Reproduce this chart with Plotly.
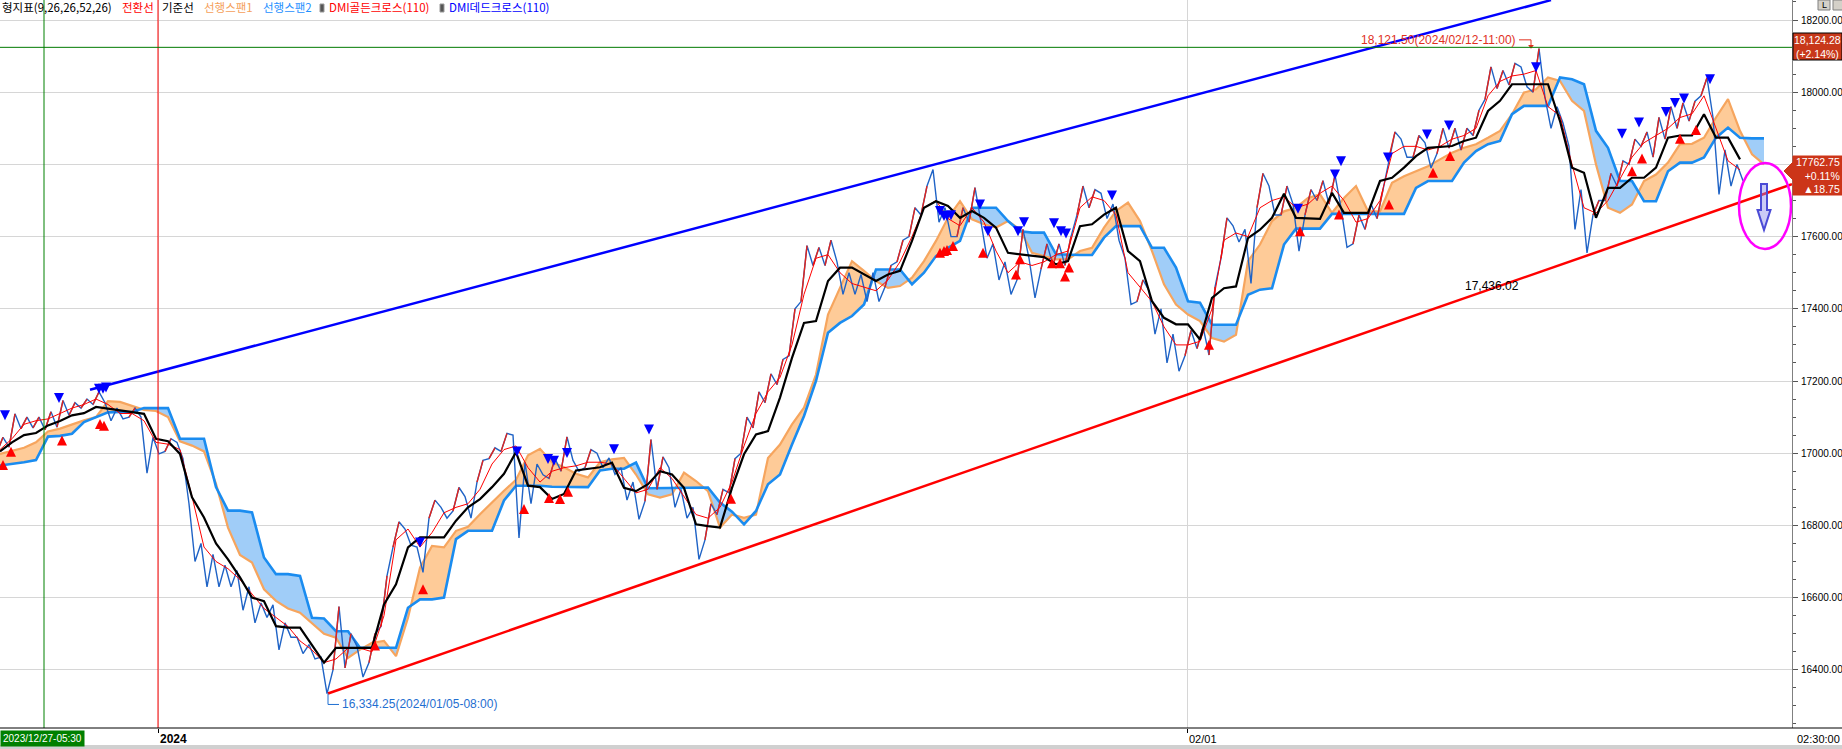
import plotly.graph_objects as go

# 30-minute bars; one sample every 12 bars (x = bar number = pixel column of the original chart)
STEP = 12

close = [17021, 17068, 17083, 17088, 17095, 17105, 17120, 17135, 17150, 17115, 17110, 17112, 17060,
         17020, 17025, 17000, 16760, 16735, 16690, 16665, 16640, 16600, 16560, 16540, 16510, 16470,
         16450, 16410, 16440, 16470, 16450, 16470, 16600, 16795, 16765, 16700, 16840, 16835, 16870,
         16855, 16960, 17000, 17025, 16980, 16960, 16955, 16960, 16975, 16960, 16985, 16975,
         16964, 16914, 16877, 16941, 16941, 16904, 16867, 16803, 16821, 16867, 16941, 17061, 17126,
         17181, 17237, 17348, 17541, 17541, 17551, 17477, 17472, 17468, 17458, 17495, 17560, 17634,
         17708, 17698, 17625, 17634, 17698, 17606, 17532, 17495, 17569, 17495, 17546, 17551, 17560,
         17708, 17712, 17689, 17643, 17449, 17449, 17403, 17329, 17292, 17311, 17320,
         17400, 17610, 17605, 17600, 17735, 17698, 17707, 17652, 17698, 17726, 17735, 17633, 17633,
         17652, 17707, 17856, 17846, 17851, 17828, 17865, 17870, 17874, 17911, 18022, 18031, 18050,
         18041, 18059, 17939, 17934, 17754, 17652, 17680, 17735, 17772, 17837, 17874, 17893, 17920,
         17939, 17948, 18013, 17865, 17800, 17763]
high = [17044, 17109, 17100, 17100, 17115, 17146, 17140, 17150, 17170, 17140, 17125, 17125, 17100,
        17044, 17040, 17030, 16860, 16750, 16720, 16690, 16675, 16630, 16585, 16580, 16530, 16490,
        16470, 16435, 16575, 16500, 16465, 16500, 16660, 16810, 16790, 16740, 16870, 16850, 16905,
        16880, 16980, 17015, 17055, 17050, 16975, 16970, 16985, 17045, 16980, 17010, 17000,
        16987, 16960, 16920, 17038, 16990, 16960, 16900, 16850, 16860, 16900, 16985, 17100, 17170,
        17220, 17260, 17400, 17575, 17570, 17590, 17530, 17500, 17495, 17500, 17520, 17590, 17680,
        17740, 17786, 17680, 17680, 17736, 17640, 17580, 17530, 17620, 17540, 17580, 17580, 17600,
        17740, 17730, 17720, 17690, 17540, 17480, 17450, 17400, 17330, 17340, 17350,
        17460, 17652, 17630, 17620, 17775, 17740, 17740, 17690, 17730, 17755, 17770, 17680, 17660,
        17690, 17730, 17890, 17870, 17880, 17860, 17900, 17900, 17900, 17950, 18070, 18060, 18080,
        18070, 18121, 17985, 17960, 17850, 17730, 17700, 17775, 17810, 17870, 17890, 17930, 17960,
        17970, 17975, 18040, 17930, 17840, 17800]
low = [17003, 17017, 17068, 17070, 17065, 17072, 17105, 17125, 17135, 17090, 17095, 17100, 16945,
       16998, 17005, 16985, 16700, 16630, 16630, 16630, 16565, 16530, 16545, 16455, 16490, 16445,
       16430, 16334, 16400, 16405, 16380, 16420, 16520, 16740, 16745, 16670, 16820, 16820, 16840,
       16820, 16920, 16985, 17005, 16765, 16860, 16940, 16930, 16950, 16950, 16960, 16960,
       16941, 16870, 16817, 16867, 16900, 16850, 16820, 16706, 16760, 16830, 16890, 17000, 17070,
       17140, 17190, 17270, 17420, 17520, 17520, 17440, 17440, 17420, 17420, 17460, 17530, 17600,
       17660, 17640, 17600, 17600, 17640, 17540, 17480, 17440, 17480, 17430, 17510, 17520, 17520,
       17660, 17680, 17650, 17590, 17412, 17420, 17330, 17250, 17227, 17270, 17290,
       17272, 17540, 17585, 17470, 17680, 17660, 17660, 17560, 17660, 17700, 17690, 17570, 17580,
       17620, 17650, 17820, 17820, 17820, 17790, 17830, 17845, 17840, 17880, 17980, 18010, 18020,
       18015, 18000, 17900, 17915, 17620, 17555, 17660, 17700, 17740, 17800, 17850, 17820, 17870,
       17900, 17920, 17990, 17717, 17740, 17755]

tenkan = [17010, 17040, 17080, 17090, 17095, 17110, 17125, 17135, 17150, 17135, 17110, 17110, 17090,
          17030, 17025, 17010, 16880, 16740, 16700, 16680, 16650, 16610, 16570, 16545, 16520, 16480,
          16455, 16420, 16430, 16460, 16460, 16450, 16550, 16760, 16790, 16740, 16780, 16835, 16850,
          16860, 16900, 16970, 17010, 17020, 16960, 16920, 16950, 16960, 16965, 16975, 16975,
          16970, 16930, 16890, 16900, 16960, 16930, 16880, 16830, 16820, 16850, 16920, 17020, 17110,
          17170, 17210, 17300, 17440, 17540, 17550, 17500, 17470, 17460, 17450, 17480, 17530, 17600,
          17680, 17700, 17650, 17630, 17680, 17640, 17560, 17500, 17530, 17520, 17530, 17550, 17560,
          17680, 17710, 17700, 17660, 17500, 17460, 17420, 17350, 17300, 17300, 17310,
          17400, 17590, 17610, 17600, 17680, 17700, 17710, 17680, 17690, 17720, 17740, 17700, 17640,
          17650, 17700, 17830, 17850, 17850, 17840, 17850, 17870, 17880, 17900, 17990, 18030, 18045,
          18050, 18060, 17960, 17935, 17800, 17680, 17665, 17700, 17760, 17820, 17860, 17880, 17900,
          17930, 17940, 17990, 17900, 17810, 17785]
kijun = [17005, 17030, 17050, 17056, 17077, 17089, 17105, 17111, 17128, 17123, 17117, 17114, 17109,
         17040, 17033, 16998, 16878, 16822, 16750, 16706, 16656, 16600, 16590, 16521, 16517, 16517,
         16470, 16420, 16461, 16461, 16461, 16461, 16581, 16637, 16739, 16767, 16767, 16767, 16813,
         16850, 16873, 16906, 16943, 17003, 16910, 16906, 16873, 16887, 16952, 16956, 16961,
         16974, 16904, 16895, 16914, 16950, 16941, 16904, 16803, 16798, 16794, 16904, 16997, 17052,
         17061, 17154, 17264, 17361, 17366, 17477, 17514, 17514, 17495, 17477, 17495, 17505, 17588,
         17680, 17698, 17685, 17652, 17671, 17652, 17625, 17555, 17551, 17546, 17543, 17523, 17532,
         17629, 17634, 17661, 17680, 17560, 17532, 17421, 17375, 17357, 17357, 17315,
         17430, 17457, 17462, 17596, 17619, 17652, 17719, 17652, 17650, 17649, 17721, 17666, 17666,
         17666, 17754, 17763, 17791, 17823, 17846, 17848, 17851, 17865, 17874, 17948, 17976, 18022,
         18022, 18022, 18022, 17920, 17791, 17777, 17652, 17735, 17735, 17763, 17763, 17791, 17874,
         17880, 17880, 17939, 17874, 17874, 17814]

# leading spans, already shifted 26 bars ahead
span1 = [16998, 17007, 17015, 17030, 17060, 17068, 17080, 17091, 17100, 17144, 17142, 17130, 17120,
         17117, 17100, 17033, 17021, 17005, 16915, 16794, 16718, 16697, 16623, 16591, 16570, 16558,
         16528, 16500, 16489, 16433, 16456, 16475, 16480, 16438, 16544, 16683, 16743, 16739, 16785,
         16796, 16831, 16864, 16896, 16926, 16994, 17012, 16975, 16961, 16943, 16933, 16975,
         16983, 16987, 16941, 16886, 16877, 16886, 16946, 16923, 16895, 16794, 16830, 16821, 16830,
         16987, 17024, 17080, 17126, 17218, 17384, 17458, 17532, 17505, 17477, 17458, 17463, 17486,
         17532, 17588, 17652, 17698, 17648, 17634, 17625, 17643, 17620, 17555, 17546, 17537, 17537,
         17560, 17569, 17625, 17671, 17694, 17643, 17560, 17468, 17412, 17384, 17366,
         17319, 17309, 17328, 17532, 17578, 17643, 17670, 17680, 17707, 17717, 17666, 17707, 17740,
         17670, 17670, 17749, 17767, 17781, 17795, 17814, 17832, 17846, 17856, 17874, 17893, 17939,
         17999, 18008, 18041, 18031, 17976, 17948, 17800, 17680, 17666, 17689, 17754, 17772, 17805,
         17856, 17857, 17874, 17930, 17981, 17893, 17828, 17800]
span2 = [16966, 16970, 16975, 16981, 17046, 17048, 17054, 17086, 17100, 17113, 17114, 17114, 17125,
         17125, 17125, 17040, 17040, 17040, 16906, 16841, 16841, 16836, 16711, 16665, 16665, 16660,
         16544, 16542, 16507, 16507, 16461, 16461, 16461, 16461, 16572, 16595, 16595, 16600, 16762,
         16785, 16785, 16785, 16869, 16910, 16910, 16910, 16907, 16907, 16906, 16906, 16952,
         16957, 16957, 16974, 16903, 16903, 16903, 16905, 16905, 16905, 16863, 16838, 16803, 16840,
         16914, 16941, 17024, 17103, 17200, 17334, 17361, 17380, 17412, 17509, 17509, 17509, 17468,
         17500, 17546, 17569, 17588, 17680, 17680, 17680, 17643, 17615, 17611, 17611, 17551, 17549,
         17549, 17549, 17597, 17629, 17629, 17629, 17569, 17569, 17514, 17421, 17417,
         17356, 17356, 17356, 17439, 17453, 17457, 17578, 17622, 17622, 17622, 17663, 17663, 17663,
         17663, 17663, 17663, 17663, 17735, 17754, 17754, 17754, 17805, 17837, 17856, 17865, 17939,
         17962, 17962, 17962, 18041, 18036, 18022, 17893, 17846, 17754, 17754, 17698, 17698, 17781,
         17805, 17805, 17819, 17874, 17902, 17874, 17872, 17872]

# DMI cross signals
golden_x = [3, 11, 62, 100, 104, 375, 423, 524, 549, 560, 568, 731, 940, 944, 947, 953, 983, 1016,
            1020, 1052, 1060, 1065, 1069, 1209, 1300, 1339, 1389, 1433, 1450, 1632, 1642, 1680, 1696]
golden_y = [16981, 17018, 17049, 17095, 17090, 16481, 16637, 16859, 16890, 16887, 16907, 16888,
            17569, 17574, 17577, 17588, 17569, 17509, 17551, 17540, 17540, 17503, 17528, 17314,
            17629, 17675, 17703, 17791, 17837, 17795, 17830, 17885, 17909]
dead_x = [5, 59, 99, 103, 106, 420, 517, 548, 554, 567, 614, 649, 940, 944, 947, 951, 980, 988,
          1018, 1024, 1054, 1061, 1066, 1112, 1298, 1335, 1341, 1388, 1427, 1449, 1536, 1622, 1639,
          1666, 1675, 1684, 1710]
dead_y = [17091, 17139, 17165, 17165, 17168, 16739, 16991, 16970, 16965, 16987, 16997, 17052, 17657,
          17643, 17643, 17645, 17675, 17601, 17601, 17626, 17623, 17601, 17595, 17700, 17663, 17758,
          17795, 17805, 17869, 17894, 18055, 17871, 17902, 17931, 17956, 17969, 18022]

# trend lines drawn on the chart
upper_x = [90, 1551]
upper_y = [17176, 18255]
lower_x = [328, 1792]
lower_y = [16334.25, 17745]

high_level = 18124.28
peak_bar, peak_val = 1531, 18121.50
trough_bar, trough_val = 328, 16334.25
line_val = 17436.02
cross_bar = 44
year_bar = 158
feb_bar = 1187
ytick_vals = [16400, 16600, 16800, 17000, 17200, 17400, 17600, 17800, 18000, 18200]
hidden_tick = 17800  # covered by the current-price box

PW, PH = 1792, 728
Y0, Y1 = 16238.8, 18255.4

bar_x = [i * STEP for i in range(len(close))]
span_x = [i * STEP for i in range(len(span1))]


def px(x):
    return x / PW


def py(y):
    return 1 - y / PH


def cloud(xs, a, b):
    out = {True: ([], []), False: ([], [])}

    def flush(sign, ra, rb):
        pts = ra + rb[::-1]
        out[sign][0].extend([p[0] for p in pts] + [None])
        out[sign][1].extend([p[1] for p in pts] + [None])

    ra, rb = [(xs[0], a[0])], [(xs[0], b[0])]
    sign = a[0] >= b[0]
    for i in range(1, len(xs)):
        s = a[i] >= b[i]
        if s != sign:
            d0, d1 = a[i - 1] - b[i - 1], a[i] - b[i]
            t = d0 / (d0 - d1) if d0 != d1 else 0
            xm = xs[i - 1] + t * (xs[i] - xs[i - 1])
            ym = a[i - 1] + t * (a[i] - a[i - 1])
            ra.append((xm, ym))
            rb.append((xm, ym))
            flush(sign, ra, rb)
            ra, rb = [(xm, ym)], [(xm, ym)]
            sign = s
        ra.append((xs[i], a[i]))
        rb.append((xs[i], b[i]))
    flush(sign, ra, rb)
    return out


fig = go.Figure()

cl = cloud(span_x, span1, span2)
fig.add_trace(go.Scatter(x=cl[True][0], y=cl[True][1], fill="toself", fillcolor="#fecb98",
                         mode="lines", line=dict(width=0), hoverinfo="skip"))
fig.add_trace(go.Scatter(x=cl[False][0], y=cl[False][1], fill="toself", fillcolor="#a0cdf8",
                         mode="lines", line=dict(width=0), hoverinfo="skip"))
fig.add_trace(go.Scatter(x=span_x, y=span1, mode="lines", line=dict(color="#f6a55e", width=2.2)))
fig.add_trace(go.Scatter(x=span_x, y=span2, mode="lines", line=dict(color="#1a8cf0", width=2.6)))

# price: zigzag through each sample's high/low, rising samples in red
zz_x, zz_y, up_x, up_y = [], [], [], []
for i, x in enumerate(bar_x):
    rising = i == 0 or close[i] >= close[i - 1]
    a, b = (low[i], high[i]) if rising else (high[i], low[i])
    zz_x += [x - 3, x + 3]
    zz_y += [a, b]
    if rising:
        up_x += [x - 3, x + 3, None]
        up_y += [a, b, None]
fig.add_trace(go.Scatter(x=zz_x, y=zz_y, mode="lines", line=dict(color="#1f63c6", width=1.4)))
fig.add_trace(go.Scatter(x=up_x, y=up_y, mode="lines", line=dict(color="#e3241b", width=1.4)))

fig.add_trace(go.Scatter(x=bar_x, y=tenkan, mode="lines", line=dict(color="#ff0000", width=1)))
fig.add_trace(go.Scatter(x=bar_x, y=kijun, mode="lines", line=dict(color="#000000", width=2.2)))

fig.add_trace(go.Scatter(x=upper_x, y=upper_y, mode="lines", line=dict(color="#0000ff", width=2.5)))
fig.add_trace(go.Scatter(x=lower_x, y=lower_y, mode="lines", line=dict(color="#ff0000", width=2.5)))

fig.add_trace(go.Scatter(x=golden_x, y=golden_y, mode="markers",
                         marker=dict(symbol="arrow-up", size=10, color="#ff0000")))
fig.add_trace(go.Scatter(x=dead_x, y=dead_y, mode="markers",
                         marker=dict(symbol="arrow-down", size=10, color="#0000ff")))

# peak marker pointer
fig.add_trace(go.Scatter(x=[peak_bar], y=[peak_val + 6], mode="markers",
                         marker=dict(symbol="triangle-down", size=5, color="#e0301e")))

shapes = [
    dict(type="line", xref="x", yref="paper", x0=cross_bar, x1=cross_bar, y0=0, y1=1,
         line=dict(color="#008000", width=1)),
    dict(type="line", xref="x", yref="paper", x0=year_bar, x1=year_bar, y0=0, y1=1,
         line=dict(color="#ff0000", width=1)),
    dict(type="line", xref="paper", yref="y", x0=0, x1=1, y0=high_level, y1=high_level,
         line=dict(color="#007a00", width=1)),
    dict(type="path", xref="x", yref="y",
         path=f"M {peak_bar - 12},18145 L {peak_bar},18145 L {peak_bar},{peak_val + 8}",
         line=dict(color="#e0301e", width=1)),
    dict(type="path", xref="x", yref="y",
         path=f"M {trough_bar},{trough_val} L {trough_bar},16304 L {trough_bar + 11},16304",
         line=dict(color="#1f6fd1", width=1)),
    dict(type="circle", xref="x", yref="y", x0=1739, x1=1791, y0=17566, y1=17804,
         line=dict(color="#ff00ff", width=2.5)),
    dict(type="path", xref="x", yref="y",
         path="M 1761,17746 L 1767,17746 L 1767,17674 L 1770.5,17674 L 1764,17618 "
              "L 1757.5,17674 L 1761,17674 Z",
         fillcolor="rgba(140,140,235,0.45)", line=dict(color="#4b4bd6", width=2)),
    # right-side price boxes
    dict(type="rect", xref="paper", yref="paper", x0=px(1793), x1=px(1842), y0=py(60), y1=py(33),
         fillcolor="#c8381a", line=dict(color="#000000", width=1)),
    dict(type="path", xref="paper", yref="paper",
         path=f"M {px(1793)},{py(156)} L {px(1842)},{py(156)} L {px(1842)},{py(195)} "
              f"L {px(1793)},{py(195)} L {px(1793)},{py(180)} L {px(1784)},{py(171)} "
              f"L {px(1793)},{py(162)} Z",
         fillcolor="#cc3519", line=dict(color="#cc3519", width=1)),
    # bottom axis line and strip
    dict(type="line", xref="paper", yref="paper", x0=0, x1=px(1842), y0=0, y1=0,
         line=dict(color="#000000", width=1)),
    dict(type="rect", xref="paper", yref="paper", x0=0, x1=px(1842), y0=py(749), y1=py(745),
         fillcolor="#d0d0d0", line=dict(width=0)),
    # top-right buttons
    dict(type="rect", xref="paper", yref="paper", x0=px(1818), x1=px(1830), y0=py(10), y1=py(0),
         fillcolor="#d4d0c8", line=dict(color="#808080", width=1)),
    dict(type="rect", xref="paper", yref="paper", x0=px(1833), x1=px(1845), y0=py(10), y1=py(0),
         fillcolor="#d4d0c8", line=dict(color="#808080", width=1)),
    # legend icons
    dict(type="rect", xref="paper", yref="paper", x0=px(320), x1=px(324), y0=py(12), y1=py(4),
         fillcolor="#555555", line=dict(color="#999999", width=1)),
    dict(type="rect", xref="paper", yref="paper", x0=px(440), x1=px(444), y0=py(12), y1=py(4),
         fillcolor="#555555", line=dict(color="#999999", width=1)),
]

KR = "Noto Sans CJK KR"
AX = "Liberation Sans"
legend_items = [
    ("형지표(9,26,26,52,26)", 0, "#000000"),
    ("전환선", 120, "#ff0000"),
    ("기준선", 160, "#000000"),
    ("선행스팬1", 202, "#f5a05a"),
    ("선행스팬2", 261, "#1e90ff"),
    ("DMI골든크로스(110)", 327, "#ff0000"),
    ("DMI데드크로스(110)", 447, "#0000ff"),
]
ann = []
for text, x, color in legend_items:
    ann.append(dict(text=text, xref="paper", yref="paper", x=px(x), y=py(7), xanchor="left",
                    yanchor="middle", showarrow=False, font=dict(family=KR, size=11.5, color=color)))

ann += [
    dict(text="18,121.50(2024/02/12-11:00)", xref="x", yref="y", x=peak_bar - 13, y=18145,
         xanchor="right", yanchor="middle", showarrow=False,
         font=dict(family=AX, size=12, color="#e0301e")),
    dict(text="16,334.25(2024/01/05-08:00)", xref="x", yref="y", x=trough_bar + 12, y=16304,
         xanchor="left", yanchor="middle", showarrow=False,
         font=dict(family=AX, size=12, color="#1f6fd1")),
    dict(text=f"{line_val:,.2f}", xref="x", yref="y", x=1492, y=17463, xanchor="center",
         yanchor="middle", showarrow=False, font=dict(family=AX, size=12, color="#000000")),
    dict(text="18,124.28<br>(+2.14%)", xref="paper", yref="paper", x=px(1817), y=py(46.5),
         xanchor="center", yanchor="middle", showarrow=False,
         font=dict(family=AX, size=10.5, color="#ffffff")),
    dict(text=f"{17762.75:.2f}<br>+0.11%<br>▲18.75", xref="paper", yref="paper", x=px(1818),
         y=py(175.5), xanchor="center", yanchor="middle", showarrow=False, align="right",
         font=dict(family=AX, size=10.5, color="#ffffff")),
    dict(text="2023/12/27-05:30", xref="paper", yref="paper", x=0, y=py(738.5), xanchor="left",
         yanchor="middle", showarrow=False, bgcolor="#008000", borderpad=2,
         font=dict(family=AX, size=10, color="#ffffff")),
    dict(text="<b>2024</b>", xref="x", yref="paper", x=year_bar, y=py(739), xanchor="left",
         yanchor="middle", showarrow=False, font=dict(family=AX, size=12, color="#000000")),
    dict(text="02/01", xref="x", yref="paper", x=feb_bar, y=py(739), xanchor="left",
         yanchor="middle", showarrow=False, font=dict(family=AX, size=11, color="#000000")),
    dict(text="02:30:00", xref="paper", yref="paper", x=px(1842), y=py(739), xanchor="right",
         yanchor="middle", showarrow=False, font=dict(family=AX, size=11, color="#000000")),
    dict(text="L", xref="paper", yref="paper", x=px(1824), y=py(5), xanchor="center",
         yanchor="middle", showarrow=False, font=dict(family=AX, size=9, color="#000000")),
]

fig.update_layout(
    template="none",
    width=1842, height=749,
    margin=dict(l=0, r=50, t=0, b=21),
    plot_bgcolor="#ffffff", paper_bgcolor="#ffffff",
    showlegend=False, hovermode=False,
    font=dict(family=AX, size=11, color="#000000"),
    shapes=shapes, annotations=ann,
)
fig.update_xaxes(range=[0, PW], tickmode="array", tickvals=[year_bar, feb_bar], showticklabels=False,
                 ticks="outside", ticklen=4, tickcolor="#000000", showgrid=True, gridcolor="#d6d6d6",
                 zeroline=False, showline=False, automargin=False)
fig.update_yaxes(range=[Y0, Y1], side="right", tickmode="array", tickvals=ytick_vals,
                 ticktext=["" if v == hidden_tick else f"{v}.00" for v in ytick_vals],
                 ticks="outside", ticklen=5,
                 tickcolor="#555555", showgrid=True, gridcolor="#d6d6d6", zeroline=False,
                 showline=True, linecolor="#808080", linewidth=1, automargin=False,
                 ticklabelstandoff=1,
                 tickfont=dict(family=AX, size=10, color="#000000"),
                 minor=dict(tickmode="linear", tick0=16400, dtick=50, ticks="outside", ticklen=3,
                            tickcolor="#555555", showgrid=False))

fig.write_html("out.html", config={"displayModeBar": False},
               post_script="document.body.style.margin='0';"
                           "document.body.style.overflow='hidden';")
